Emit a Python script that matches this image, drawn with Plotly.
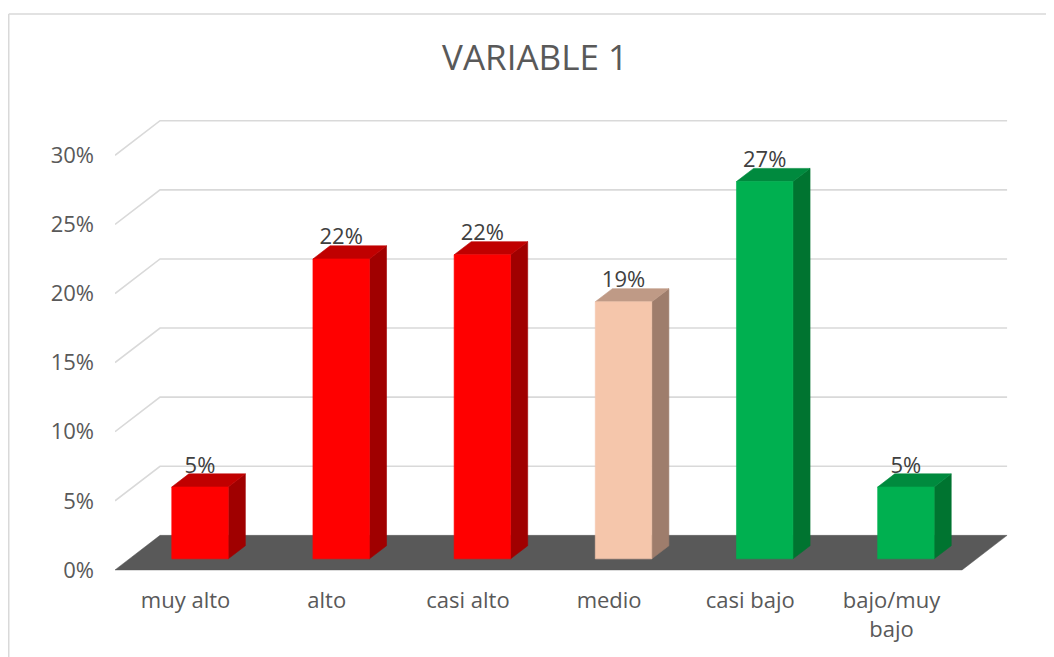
import plotly.graph_objects as go

# ---- data ----
categories = ["muy alto", "alto", "casi alto", "medio", "casi bajo", "bajo/muy bajo"]
tick_labels = ["muy alto", "alto", "casi alto", "medio", "casi bajo", "bajo/muy<br>bajo"]
values = [5.2, 21.7, 22.0, 18.6, 27.3, 5.2]  # percent
y_ticks = [0, 5, 10, 15, 20, 25, 30]
y_tick_text = ["0%", "5%", "10%", "15%", "20%", "25%", "30%"]
title_text = "VARIABLE 1"

# ---- style ----
front_cols = ["#FF0000", "#FF0000", "#FF0000", "#F5C6AB", "#00B050", "#00B050"]
top_cols = ["#C00000", "#C00000", "#C00000", "#BF9A86", "#008A3E", "#008A3E"]
side_cols = ["#A00000", "#A00000", "#A00000", "#9E7D6C", "#007430", "#007430"]
DX = 0.319     # oblique depth shift in category units
DZ = 2.5       # oblique depth shift in percent units
F1, F2 = 0.32, 0.70  # bar front/back depth fractions
FL = 0.58      # depth used for data label baseline
BW = 0.40      # bar width (category units)
text_col = "#595959"
FONT = "Open Sans"

W, H = 1046, 649          # page body has an 8px margin
L, R, T, B = 107, 39, 92, 85
PW, PH = W - L - R, H - T - B
xr = [-0.5, 5.875]
yr = [-0.15, 34.0]

fig = go.Figure()

def proj(x, z, d):
    return x + d * DX, z + d * DZ

n = len(categories)
# back-wall gridlines
for v in y_ticks[1:]:
    p0 = proj(-0.5, v, 0)
    p1 = proj(-0.5, v, 1)
    p2 = proj(n - 0.5, v, 1)
    fig.add_trace(go.Scatter(x=[p0[0], p1[0], p2[0]], y=[p0[1], p1[1], p2[1]],
                             mode="lines", line=dict(color="#D9D9D9", width=1.6),
                             hoverinfo="skip", showlegend=False))
# floor
fl = [proj(-0.5, 0, 0), proj(-0.5, 0, 1), proj(n - 0.5, 0, 1), proj(n - 0.5, 0, 0)]
fig.add_trace(go.Scatter(x=[p[0] for p in fl] + [fl[0][0]], y=[p[1] for p in fl] + [fl[0][1]],
                         mode="lines", fill="toself", fillcolor="#595959",
                         line=dict(color="#595959", width=0.5), hoverinfo="skip", showlegend=False))

def poly(pts, col):
    xs = [p[0] for p in pts] + [pts[0][0]]
    ys = [p[1] for p in pts] + [pts[0][1]]
    fig.add_trace(go.Scatter(x=xs, y=ys, mode="lines", fill="toself", fillcolor=col,
                             line=dict(color=col, width=0.6), hoverinfo="skip", showlegend=False))

for i, (v, fc, tc, sc) in enumerate(zip(values, front_cols, top_cols, side_cols)):
    xl, xr_ = i - BW / 2, i + BW / 2
    poly([proj(xr_, 0, F1), proj(xr_, 0, F2), proj(xr_, v, F2), proj(xr_, v, F1)], sc)
    poly([proj(xl, v, F1), proj(xl, v, F2), proj(xr_, v, F2), proj(xr_, v, F1)], tc)
    poly([proj(xl, 0, F1), proj(xl, v, F1), proj(xr_, v, F1), proj(xr_, 0, F1)], fc)

# data labels
lx = [proj(i, v, F1)[0] for i, v in enumerate(values)]
ly = [proj(i, v, FL)[1] for i, v in enumerate(values)]
fig.add_trace(go.Scatter(x=lx, y=ly, mode="text", text=[f"{round(v)}%" for v in values],
                         textposition="top center",
                         textfont=dict(family=FONT, size=22, color="#404040"),
                         hoverinfo="skip", showlegend=False))

def px(fx):
    return (fx - L) / PW

def py(fy):
    return (H - B - fy) / PH

fig.update_layout(
    width=W, height=H,
    margin=dict(l=L, r=R, t=T, b=B),
    paper_bgcolor="white", plot_bgcolor="white",
    title=dict(text=title_text, x=(535 - 8) / W, xanchor="center", y=1 - (58 - 8) / H,
               yanchor="middle", xref="container", yref="container",
               font=dict(family=FONT, size=35, color=text_col)),
    xaxis=dict(range=xr, tickvals=list(range(n)), ticktext=tick_labels,
               showgrid=False, zeroline=False, showline=False, ticks="",
               ticklabelstandoff=13,
               tickfont=dict(family=FONT, size=22, color=text_col)),
    yaxis=dict(range=yr, tickvals=y_ticks, ticktext=y_tick_text,
               showgrid=False, zeroline=False, showline=False, ticks="",
               ticklabelstandoff=20,
               tickfont=dict(family=FONT, size=22, color=text_col)),
    shapes=[
        dict(type="line", xref="paper", yref="paper",
             x0=px(0.75), x1=px(W + 20), y0=py(6), y1=py(6),
             line=dict(color="#D9D9D9", width=1.5)),
        dict(type="line", xref="paper", yref="paper",
             x0=px(0.75), x1=px(0.75), y0=py(6), y1=py(H + 20),
             line=dict(color="#D9D9D9", width=1.5)),
    ],
)

fig.write_html("out.html")
